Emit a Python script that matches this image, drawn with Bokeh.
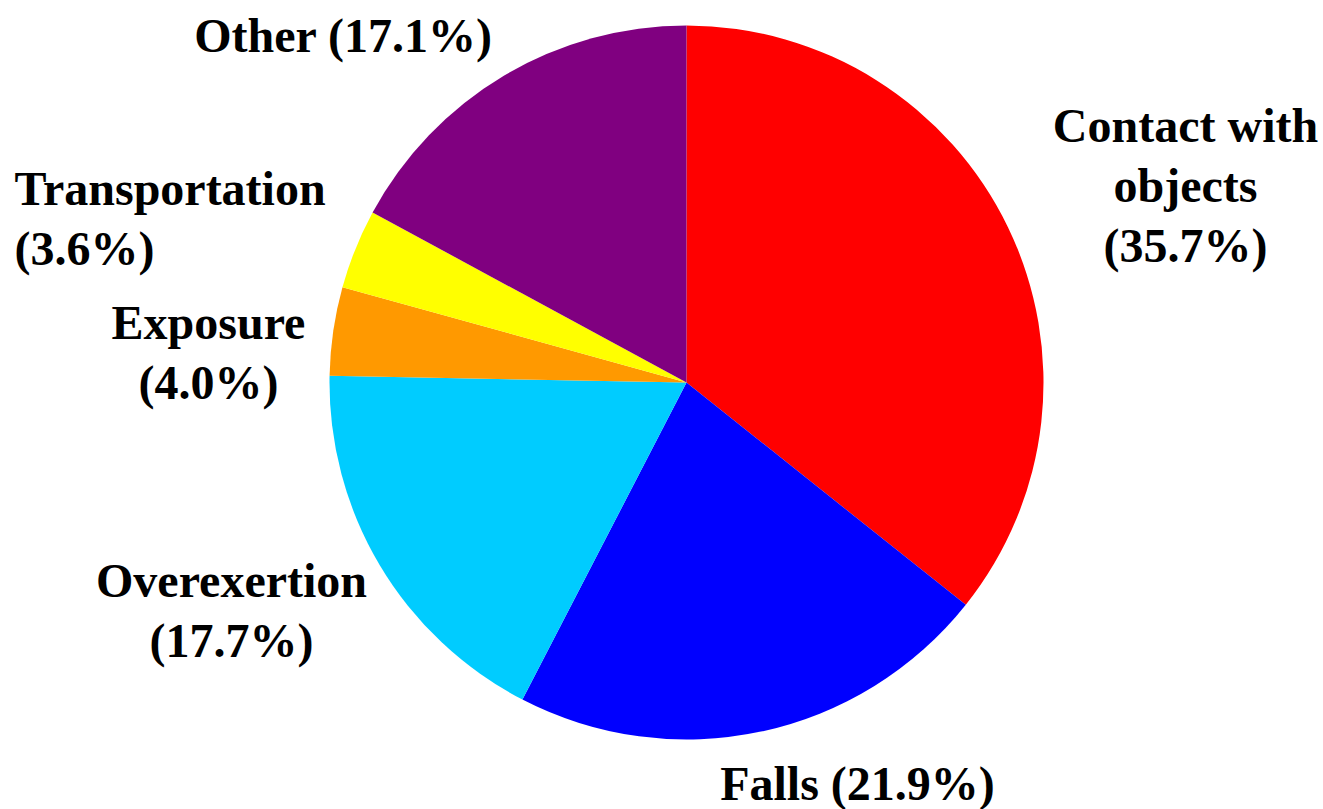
import math
from bokeh.plotting import figure
from bokeh.models import ColumnDataSource, Range1d
from bokeh.core.properties import value
from bokeh.embed import file_html
from bokeh.resources import INLINE

# ---- data ----
categories = ["Contact with objects", "Falls", "Overexertion", "Exposure", "Transportation", "Other"]
percents = [35.7, 21.9, 17.7, 4.0, 3.6, 17.1]
colors = ["#FF0000", "#0000FF", "#00CCFF", "#FF9900", "#FFFF00", "#800080"]

# label line breaks (how each category name is wrapped)
label_breaks = [["Contact with", "objects"], ["Falls"], ["Overexertion"], ["Exposure"], ["Transportation"], ["Other"]]
pct_on_same_line = [False, True, False, False, False, True]

# ---- layout (pixels, y measured downward from top) ----
W, H = 1323, 809
CX, CY, R = 686, 382, 357
BASE_SHIFT = 15  # compensate for rendered baseline offset
label_anchor = [(1185, 140, "center"), (857, 798, "center"), (231, 595, "center"),
                (208, 337, "center"), (14, 203, "left"), (343, 50, "center")]
LINE_H = 60
FONT = "Liberation Serif"

p = figure(width=W, height=H, output_backend="svg", toolbar_location=None,
           x_range=Range1d(0, W), y_range=Range1d(0, H), min_border=0,
           outline_line_color=None, background_fill_color="white", border_fill_color="white")
p.axis.visible = False
p.grid.visible = False

total = sum(percents)
starts, ends = [], []
cum = 0.0
for v in percents:
    starts.append(math.pi / 2 - 2 * math.pi * cum / total)
    cum += v
    ends.append(math.pi / 2 - 2 * math.pi * cum / total)

src = ColumnDataSource(dict(x=[CX] * len(percents), y=[H - CY] * len(percents),
                            start=starts, end=ends, color=colors, name=categories))
p.wedge(x="x", y="y", radius=R, radius_units="data", start_angle="start", end_angle="end",
        direction="clock", fill_color="color", line_color=None, source=src)

for lines, same, v, (lx, ly, align) in zip(label_breaks, pct_on_same_line, percents, label_anchor):
    pct = f"({v:.1f}%)"
    if same:
        texts = lines[:-1] + [lines[-1] + " " + pct]
    else:
        texts = lines + [pct]
    xs = [lx] * len(texts)
    ys = [H - (ly - BASE_SHIFT + i * LINE_H) for i in range(len(texts))]
    p.text(x=xs, y=ys, text=texts, text_font=value(FONT), text_font_style="bold",
           text_font_size="48px", text_align=align, text_baseline="alphabetic",
           text_color="black")

open("out.html", "w").write(file_html(p, INLINE))
